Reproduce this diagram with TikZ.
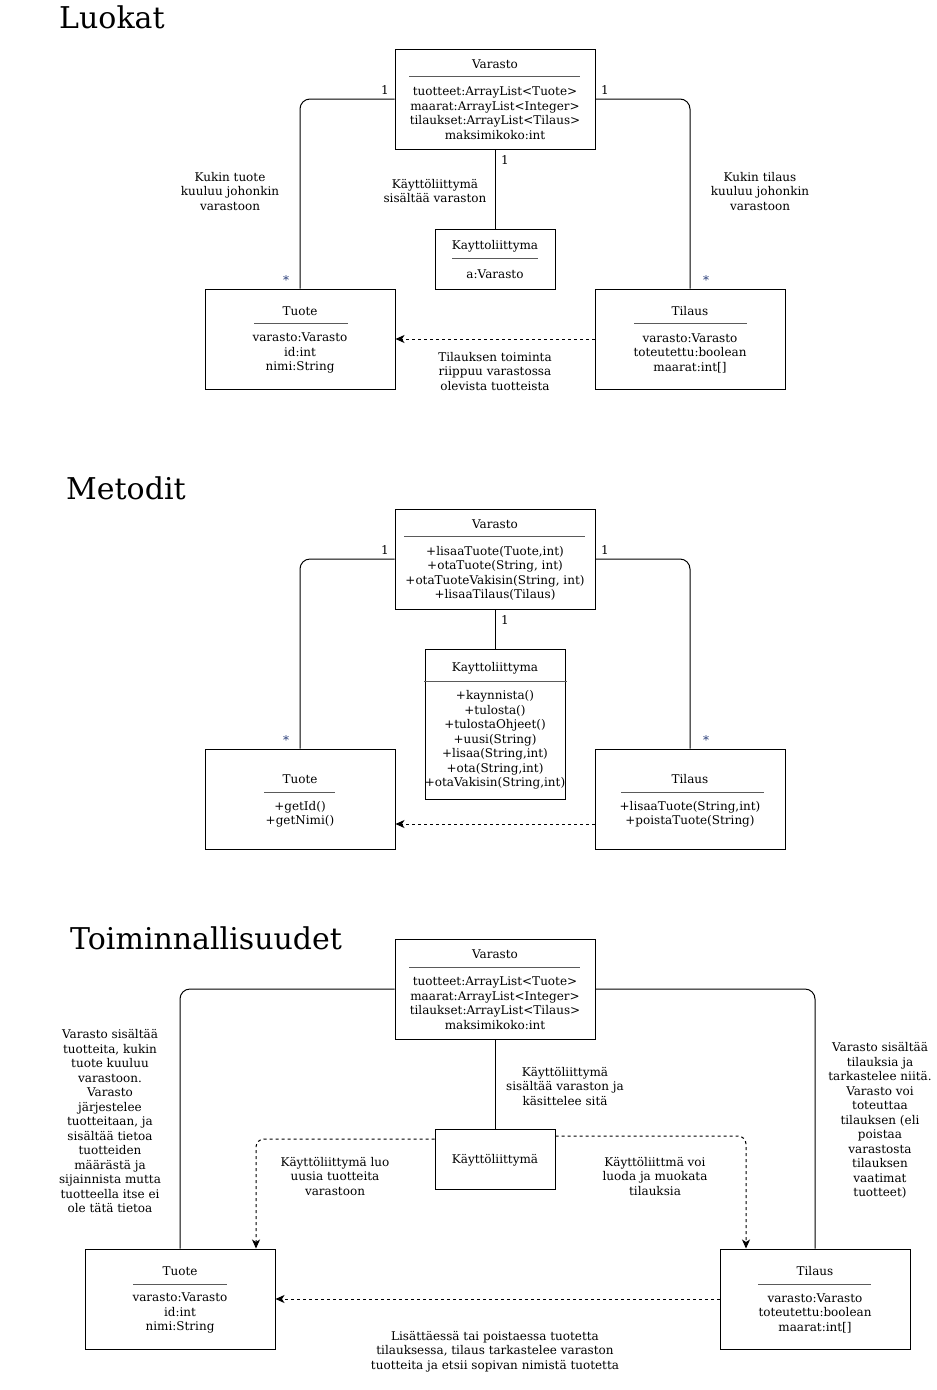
\documentclass[tikz,border=0pt]{standalone}
\usepackage{fontspec}
\setmainfont{DejaVu Serif}
\usetikzlibrary{arrows.meta}
\definecolor{starblue}{RGB}{40,60,120}
\definecolor{sepgray}{RGB}{90,90,90}
\tikzset{
  box/.style={draw=black, line width=1pt, fill=white, inner sep=0pt},
  txt/.style={font=\fontsize{12}{14.5}\selectfont, align=center, inner sep=0pt, text=black, yshift=-0.8pt},
  ttl/.style={font=\fontsize{30}{35}\selectfont, inner sep=0pt, anchor=base west},
  sepl/.style={draw=sepgray, line width=1pt},
  conn/.style={draw=black, line width=1pt, rounded corners=10pt},
  dep/.style={draw=black, line width=1pt, dash pattern=on 3pt off 3pt, rounded corners=8pt, -{Stealth[length=9pt,width=8pt,inset=2.5pt]}},
  mult/.style={font=\fontsize{12}{14.5}\selectfont, inner sep=0pt},
  star/.style={font=\fontsize{12}{14.5}\selectfont, inner sep=0pt, text=starblue},
}
\begin{document}
\begin{tikzpicture}[x=1pt,y=-1pt]
\useasboundingbox (0,0) rectangle (937,1390);

% ================= Luokat =================
\node[ttl] (title1) at (59,28) {Luokat};

\node[box, minimum width=200pt, minimum height=100pt] (v1) at (495,99) {};
\node[txt] (v1t) at (495,63) {Varasto};
\draw[sepl] (409,76) -- (580,76);
\node[txt] (v1a) at (495,112.5) {tuotteet:ArrayList<Tuote>\\maarat:ArrayList<Integer>\\tilaukset:ArrayList<Tilaus>\\maksimikoko:int};

\node[box, minimum width=120pt, minimum height=60pt] (k1) at (495,259) {};
\node[txt] (k1t) at (495,245) {Kayttoliittyma};
\draw[sepl] (452,258) -- (538,258);
\node[txt] (k1a) at (495,273) {a:Varasto};

\node[box, minimum width=190pt, minimum height=100pt] (t1) at (300,339) {};
\node[txt] (t1t) at (300,310) {Tuote};
\draw[sepl] (254,323) -- (348,323);
\node[txt] (t1a) at (300,352.5) {varasto:Varasto\\id:int\\nimi:String};

\node[box, minimum width=190pt, minimum height=100pt] (r1) at (690,339) {};
\node[txt] (r1t) at (690,310) {Tilaus};
\draw[sepl] (634,323) -- (747,323);
\node[txt] (r1a) at (690,352.5) {varasto:Varasto\\toteutettu:boolean\\maarat:int[]};

\draw[conn] (v1.west) -| (t1.north);
\draw[conn] (v1.east) -| (r1.north);
\draw[conn] (v1.south) -- (k1.north);
\draw[dep] (r1.west) -- (t1.east);

\node[mult] (m1a) at (385,90) {1};
\node[mult] (m1b) at (605,90) {1};
\node[mult] (m1c) at (505,160) {1};
\node[star] (s1a) at (286,280) {*};
\node[star] (s1b) at (706,280) {*};

\node[txt] (l1a) at (230,190.5) {Kukin tuote\\kuuluu johonkin\\varastoon};
\node[txt] (l1b) at (760,190.5) {Kukin tilaus\\kuuluu johonkin\\varastoon};
\node[txt] (l1c) at (435,190) {Käyttöliittymä\\sisältää varaston};
\node[txt] (l1d) at (495,370.5) {Tilauksen toiminta\\riippuu varastossa\\olevista tuotteista};

% ================= Metodit =================
\node[ttl] (title2) at (66,499) {Metodit};

\node[box, minimum width=200pt, minimum height=100pt] (v2) at (495,559) {};
\node[txt] (v2t) at (495,523) {Varasto};
\draw[sepl] (404,536) -- (585,536);
\node[txt] (v2a) at (495,572.5) {+lisaaTuote(Tuote,int)\\+otaTuote(String, int)\\+otaTuoteVakisin(String, int)\\+lisaaTilaus(Tilaus)};

\node[box, minimum width=140pt, minimum height=150pt] (k2) at (495,724) {};
\node[txt] (k2t) at (495,667) {Kayttoliittyma};
\draw[sepl] (424,681) -- (567,681);
\node[txt] (k2a) at (495,739) {+kaynnista()\\+tulosta()\\+tulostaOhjeet()\\+uusi(String)\\+lisaa(String,int)\\+ota(String,int)\\+otaVakisin(String,int)};

\node[box, minimum width=190pt, minimum height=100pt] (t2) at (300,799) {};
\node[txt] (t2t) at (300,778) {Tuote};
\draw[sepl] (264,792) -- (335,792);
\node[txt] (t2a) at (300,813.5) {+getId()\\+getNimi()};

\node[box, minimum width=190pt, minimum height=100pt] (r2) at (690,799) {};
\node[txt] (r2t) at (690,778) {Tilaus};
\draw[sepl] (621,792) -- (764,792);
\node[txt] (r2a) at (690,813.5) {+lisaaTuote(String,int)\\+poistaTuote(String)};

\draw[conn] (v2.west) -| (t2.north);
\draw[conn] (v2.east) -| (r2.north);
\draw[conn] (v2.south) -- (k2.north);
\draw[dep] ([yshift=-25pt]r2.west) -- ([yshift=-25pt]t2.east);

\node[mult] (m2a) at (385,550) {1};
\node[mult] (m2b) at (605,550) {1};
\node[mult] (m2c) at (505,620) {1};
\node[star] (s2a) at (286,740) {*};
\node[star] (s2b) at (706,740) {*};

% ================= Toiminnallisuudet =================
\node[ttl] (title3) at (70,949) {Toiminnallisuudet};

\node[box, minimum width=200pt, minimum height=100pt] (v3) at (495,989) {};
\node[txt] (v3t) at (495,953) {Varasto};
\draw[sepl] (409,967) -- (580,967);
\node[txt] (v3a) at (495,1002.5) {tuotteet:ArrayList<Tuote>\\maarat:ArrayList<Integer>\\tilaukset:ArrayList<Tilaus>\\maksimikoko:int};

\node[box, minimum width=120pt, minimum height=60pt] (k3) at (495,1159) {};
\node[txt] (k3t) at (495,1159) {Käyttöliittymä};

\node[box, minimum width=190pt, minimum height=100pt] (t3) at (180,1299) {};
\node[txt] (t3t) at (180,1270) {Tuote};
\draw[sepl] (133,1284) -- (227,1284);
\node[txt] (t3a) at (180,1312.5) {varasto:Varasto\\id:int\\nimi:String};

\node[box, minimum width=190pt, minimum height=100pt] (r3) at (815,1299) {};
\node[txt] (r3t) at (815,1270) {Tilaus};
\draw[sepl] (758,1284) -- (871,1284);
\node[txt] (r3a) at (815,1312.5) {varasto:Varasto\\toteutettu:boolean\\maarat:int[]};

\draw[conn] (v3.west) -| (t3.north);
\draw[conn] (v3.east) -| (r3.north);
\draw[conn] (v3.south) -- (k3.north);
\draw[dep] ([yshift=20pt]k3.west) -| ([xshift=76pt]t3.north);
\draw[dep] ([yshift=23pt]k3.east) -| ([xshift=-69pt]r3.north);
\draw[dep] (r3.west) -- (t3.east);

\node[txt] (l3a) at (565,1085.5) {Käyttöliittymä\\sisältää varaston ja\\käsittelee sitä};
\node[txt] (l3b) at (335,1175.5) {Käyttöliittymä luo\\uusia tuotteita\\varastoon};
\node[txt] (l3c) at (655,1175.5) {Käyttöliittmä voi\\luoda ja muokata\\tilauksia};
\node[txt] (l3d) at (110,1120.5) {Varasto sisältää\\tuotteita, kukin\\tuote kuuluu\\varastoon.\\Varasto\\järjestelee\\tuotteitaan, ja\\sisältää tietoa\\tuotteiden\\määrästä ja\\sijainnista mutta\\tuotteella itse ei\\ole tätä tietoa};
\node[txt] (l3e) at (880,1120) {Varasto sisältää\\tilauksia ja\\tarkastelee niitä.\\Varasto voi\\toteuttaa\\tilauksen (eli\\poistaa\\varastosta\\tilauksen\\vaatimat\\tuotteet)};
\node[txt] (l3f) at (495,1350.5) {Lisättäessä tai poistaessa tuotetta\\tilauksessa, tilaus tarkastelee varaston\\tuotteita ja etsii sopivan nimistä tuotetta};
\end{tikzpicture}
\end{document}
